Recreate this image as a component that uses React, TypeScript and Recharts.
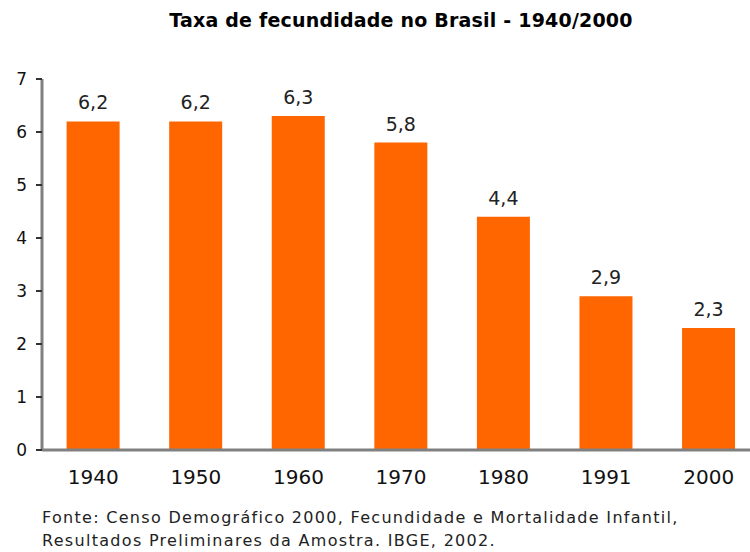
import { BarChart, Bar, XAxis, YAxis, LabelList } from "recharts"

const years = ["1940", "1950", "1960", "1970", "1980", "1991", "2000"]
const rates = [6.2, 6.2, 6.3, 5.8, 4.4, 2.9, 2.3]
const yTicks = [0, 1, 2, 3, 4, 5, 6, 7]
const boundaryTicks = [0, 1, 2, 3, 4, 5, 6, 7]

const data = years.map((year, i) => ({ year, rate: rates[i] }))

const font = "'DejaVu Sans', Verdana, sans-serif"

export default function App() {
  return (
    <div
      style={{
        position: "fixed",
        left: 0,
        top: 0,
        width: 750,
        height: 552,
        overflow: "hidden",
        background: "#fff",
        fontFamily: font,
      }}
    >
      {/* Title */}
      <div
        style={{
          position: "absolute",
          left: 0,
          width: 802,
          top: 9,
          textAlign: "center",
          fontWeight: "bold",
          fontSize: 19,
          letterSpacing: 0.2,
          color: "#000",
        }}
      >
        Taxa de fecundidade no Brasil - 1940/2000
      </div>

      <BarChart
        width={760}
        height={552}
        data={data}
        margin={{ top: 79, right: 0, bottom: 72, left: 0 }}
        barCategoryGap="24%"
      >
        <XAxis
          xAxisId="bounds"
          type="number"
          domain={[0, 7]}
          ticks={boundaryTicks}
          tickFormatter={() => ""}
          axisLine={false}
          tickSize={6}
          tickLine={{ stroke: "#aaa", strokeWidth: 2 }}
          height={0}
        />
        <XAxis
          dataKey="year"
          xAxisId="cat"
          axisLine={{ stroke: "#808080", strokeWidth: 3 }}
          tickLine={false}
          tickSize={0}
          tickMargin={20}
          height={30}
          tick={{ fill: "#111", fontSize: 20, fontFamily: font }}
        />
        <YAxis
          domain={[0, 7]}
          ticks={yTicks}
          width={42}
          interval={0}
          axisLine={{ stroke: "#808080", strokeWidth: 3 }}
          tickLine={{ stroke: "#333", strokeWidth: 2 }}
          tickSize={6}
          tickMargin={9}
          tick={{ fill: "#111", fontSize: 17, fontFamily: font }}
        />
        <Bar dataKey="rate" xAxisId="cat" fill="#FF6600" isAnimationActive={false}>
          <LabelList
            dataKey="rate"
            position="top"
            offset={12}
            formatter={(v: number) => v.toFixed(1).replace(".", ",")}
            style={{ fill: "#222", fontSize: 19, fontFamily: font }}
          />
        </Bar>
      </BarChart>

      {/* Source note */}
      <div
        style={{
          position: "absolute",
          left: 42,
          top: 506,
          fontSize: 16,
          letterSpacing: 1.3,
          lineHeight: "23px",
          color: "#222",
        }}
      >
        Fonte: Censo Demográfico 2000, Fecundidade e Mortalidade Infantil,
        <br />
        Resultados Preliminares da Amostra. IBGE, 2002.
      </div>
    </div>
  )
}
